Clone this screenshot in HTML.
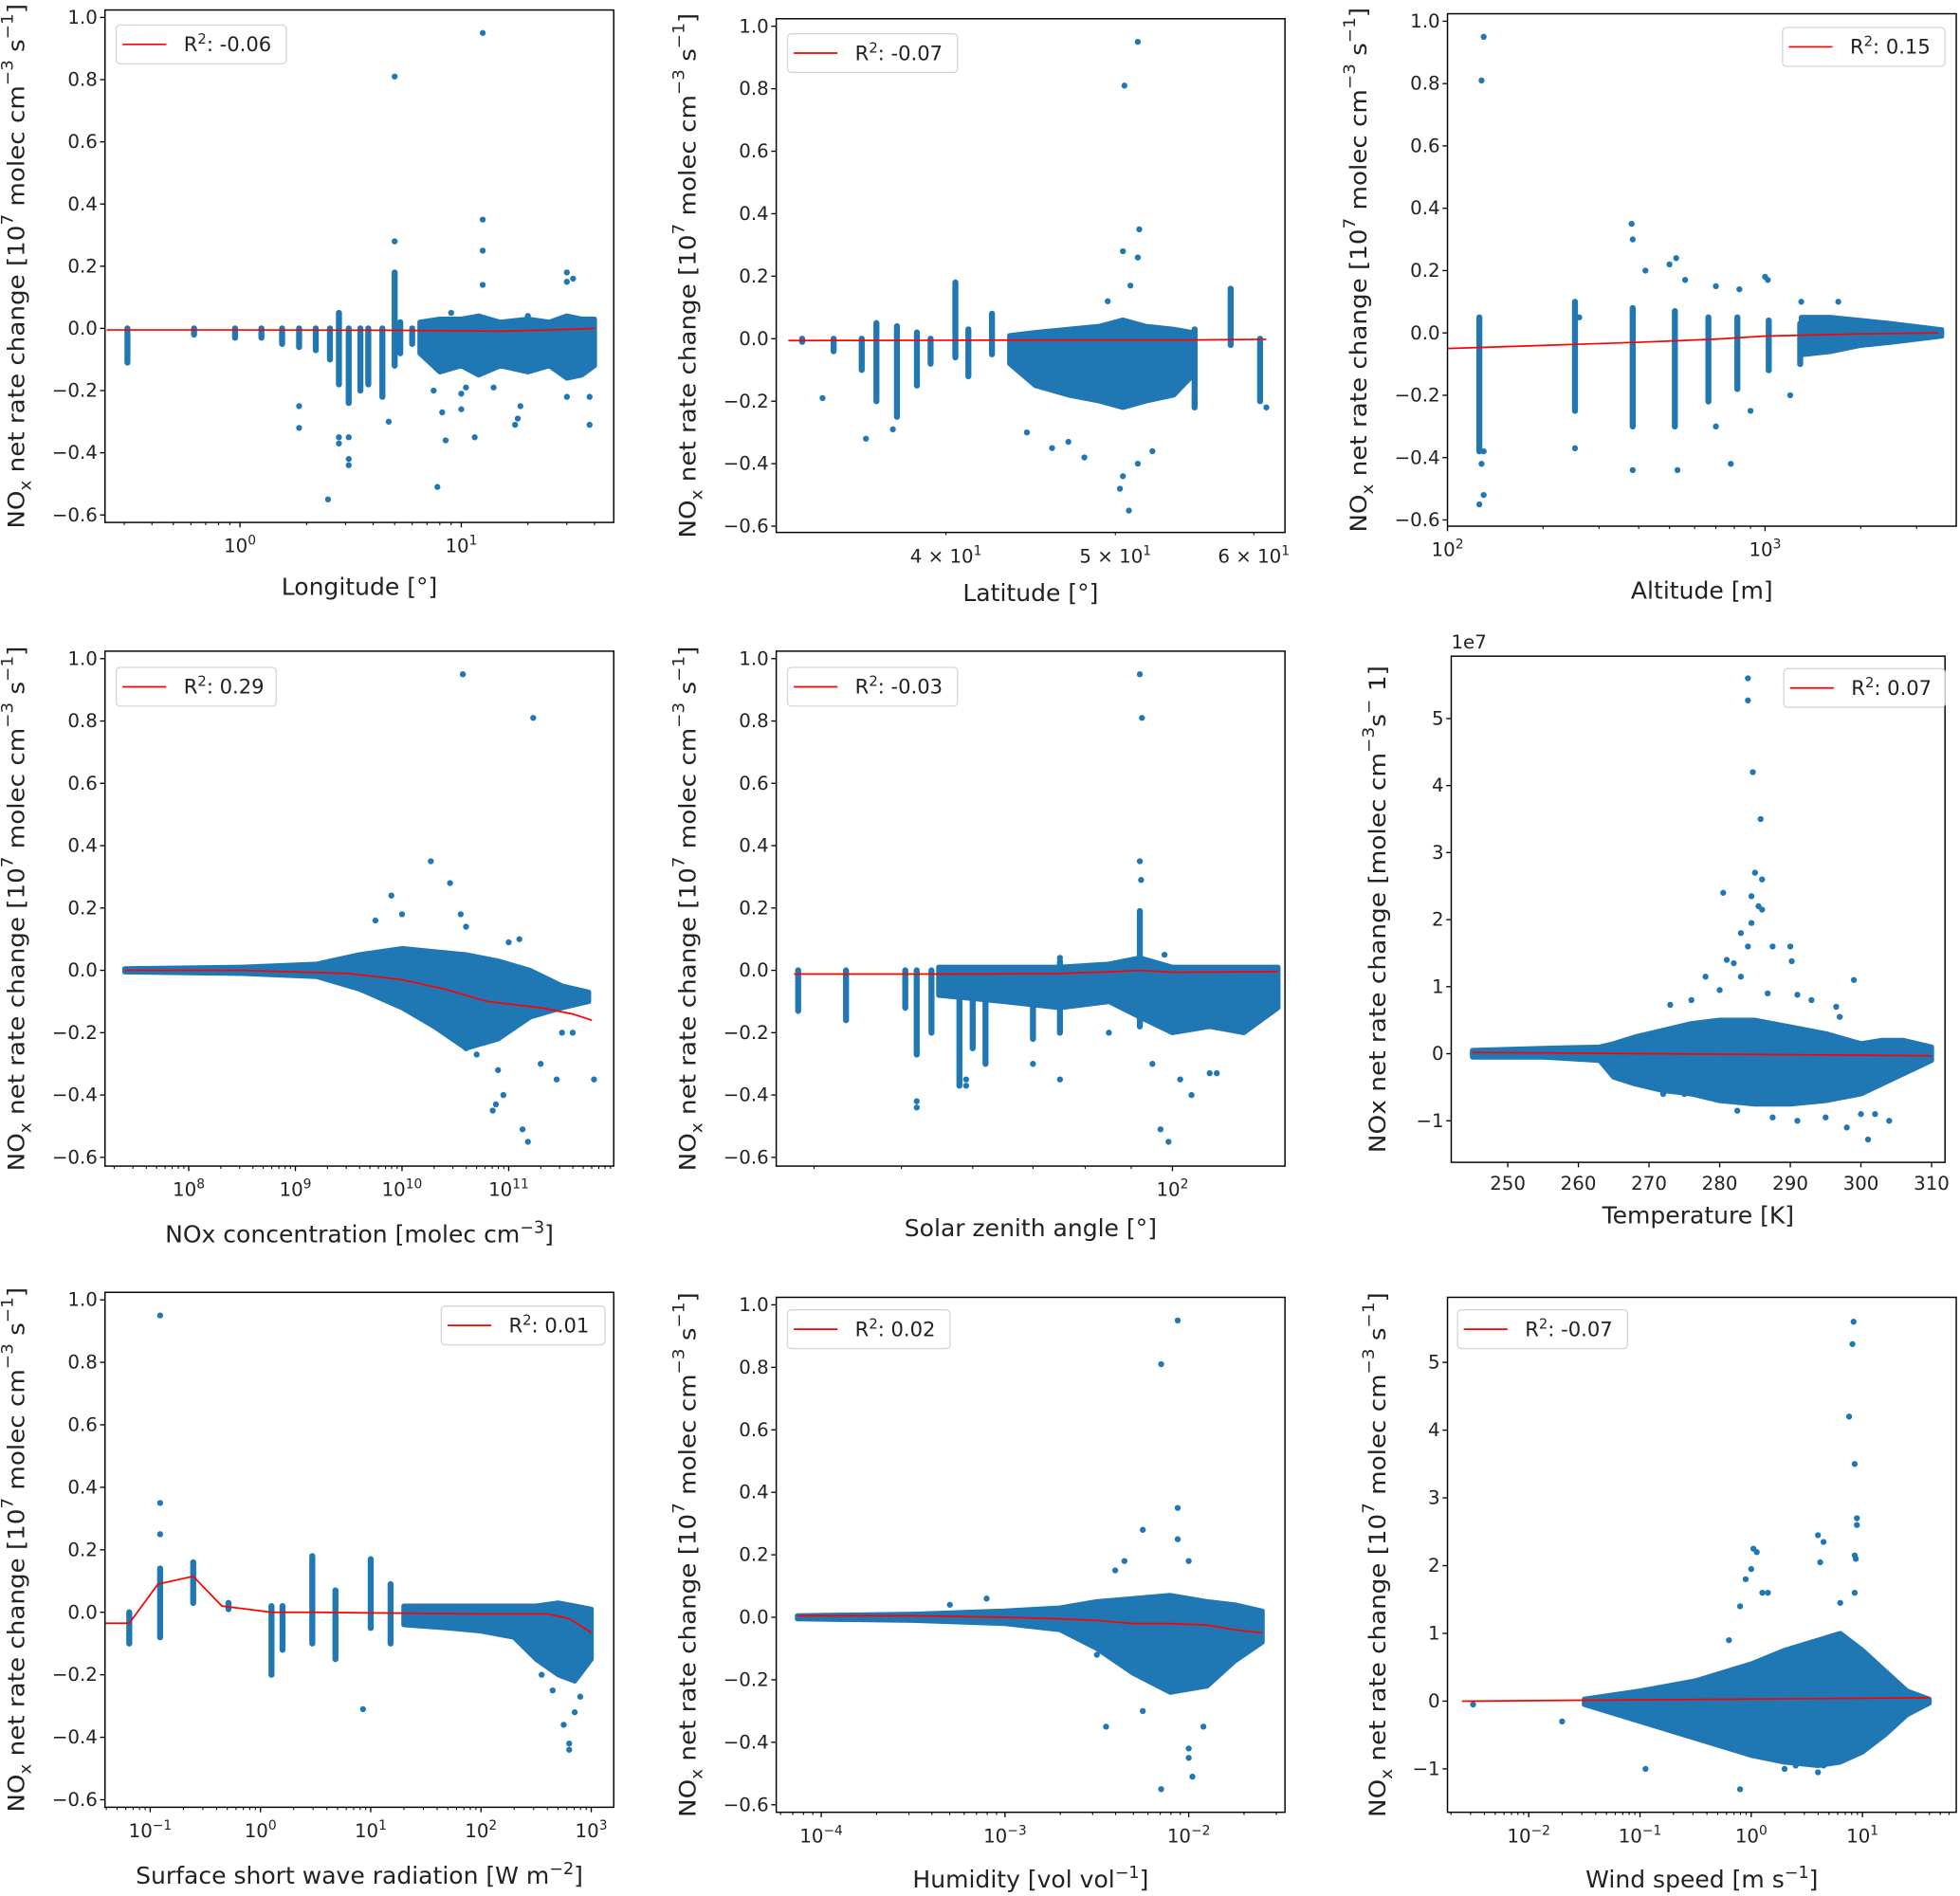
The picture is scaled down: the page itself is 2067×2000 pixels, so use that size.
<!DOCTYPE html>
<html><head><meta charset="utf-8"><style>
html,body{margin:0;padding:0;background:#fff;}
svg{display:block;font-family:"DejaVu Sans","Liberation Sans",sans-serif;}
</style></head><body>
<svg id="fig" width="2067" height="2000" viewBox="0 0 1568 1517" preserveAspectRatio="none" xmlns="http://www.w3.org/2000/svg"></svg>
<script>
// ---------- DATA (x in real units, or log10 exponent where noted) ----------
// Panel 1 Longitude (real)
const p1Cols=[[0.31,0,-0.11],[0.62,0,-0.02],[0.95,0,-0.03],[1.25,0,-0.03],[1.55,0,-0.05],[1.85,0,-0.06],[2.2,0,-0.07],[2.55,0,-0.1],[2.8,0.05,-0.18],[3.1,0,-0.24],[3.5,0,-0.2],[3.8,0,-0.18],[4.4,0,-0.22],[5.0,0.18,-0.12],[5.3,0.02,-0.08],[6.0,0,-0.05]];
const p1EnvX=[6.5,8,10,12,15,20,25,30,35,40];
const p1EnvTop=[0.02,0.03,0.03,0.04,0.02,0.03,0.02,0.04,0.03,0.03];
const p1EnvBot=[-0.08,-0.14,-0.12,-0.15,-0.12,-0.14,-0.12,-0.16,-0.15,-0.12];
const p1PtX=[2.5,5.0,12.5,12.5,12.5,12.5,5.0,1.85,1.85,2.8,2.8,3.1,3.1,3.1,4.7,7.8,8.5,11.5,17.5,18,10,10,8.2,30,30,32,30,38,38,20,9,10.5,7.5,14,18.5];
const p1PtY=[-0.55,0.81,0.95,0.35,0.25,0.14,0.28,-0.25,-0.32,-0.35,-0.37,-0.42,-0.44,-0.35,-0.3,-0.51,-0.36,-0.35,-0.31,-0.29,-0.26,-0.21,-0.27,0.18,0.15,0.16,-0.22,-0.31,-0.22,0.04,0.05,-0.19,-0.2,-0.19,-0.25];
const p1FitX=[0.25,1,5,15,25,40];
const p1FitY=[-0.005,-0.005,-0.006,-0.009,-0.005,0];
// Panel 2 Latitude (real)
const p2Cols=[[33.1,0,-0.01],[34.5,0,-0.04],[35.8,0,-0.1],[36.5,0.05,-0.2],[37.5,0.04,-0.25],[38.5,0.02,-0.15],[39.2,0,-0.08],[40.5,0.18,-0.06],[41.2,0.03,-0.12],[42.5,0.08,-0.05],[55.5,0.03,-0.22],[58.2,0.16,-0.02],[60.5,0,-0.2]];
const p2EnvX=[43.5,45,47,49,50.5,52,54,55.3];
const p2EnvTop=[0.01,0.02,0.03,0.04,0.06,0.04,0.03,0.02];
const p2EnvBot=[-0.08,-0.15,-0.18,-0.2,-0.22,-0.2,-0.18,-0.12];
const p2PtX=[51.5,50.6,51.6,50.5,51.5,36,34,37.3,46,48,50.5,50.9,50.3,51.5,44.5,47,61,52.5,55.5,51,49.5];
const p2PtY=[0.95,0.81,0.35,0.28,0.26,-0.32,-0.19,-0.29,-0.35,-0.38,-0.44,-0.55,-0.48,-0.4,-0.3,-0.33,-0.22,-0.36,-0.2,0.17,0.12];
const p2FitX=[32.5,40,50,55,61];
const p2FitY=[-0.006,-0.005,-0.004,-0.004,-0.002];
// Panel 3 Altitude (real)
const p3Cols=[[126,0.05,-0.38],[252,0.1,-0.25],[383,0.08,-0.3],[520,0.07,-0.3],[663,0.05,-0.22],[818,0.05,-0.18],[1027,0.04,-0.12],[1290,0.03,-0.1]];
const p3EnvX=[1300,1600,2000,2500,3000,3600];
const p3EnvTop=[0.05,0.05,0.04,0.03,0.02,0.01];
const p3EnvBot=[-0.07,-0.06,-0.04,-0.03,-0.02,-0.01];
const p3PtX=[130,128,126,130,128,130,380,383,252,383,530,525,560,780,700,1000,1020,830,1300,1700,500,420,260,700,900,1200];
const p3PtY=[0.95,0.81,-0.55,-0.52,-0.42,-0.38,0.35,0.3,-0.37,-0.44,-0.44,0.24,0.17,-0.42,0.15,0.18,0.17,0.14,0.1,0.1,0.22,0.2,0.05,-0.3,-0.25,-0.2];
const p3FitX=[100,200,400,700,1000,2000,3500];
const p3FitY=[-0.05,-0.04,-0.03,-0.02,-0.01,-0.003,0];
// Panel 4 NOx concentration (log10 exponent)
const p4Cols=[];
const p4EnvX=[7.4,8.5,9.2,9.6,10.0,10.3,10.6,10.9,11.2,11.5,11.75];
const p4EnvTop=[0.005,0.01,0.02,0.05,0.07,0.06,0.05,0.03,0.0,-0.05,-0.07];
const p4EnvBot=[-0.005,-0.01,-0.02,-0.06,-0.12,-0.18,-0.25,-0.22,-0.15,-0.12,-0.1];
const p4PtX=[10.57,11.23,10.27,10.45,9.9,10.0,10.55,10.6,9.75,11.1,11.0,10.9,10.95,10.88,10.85,11.13,11.18,11.45,11.8,11.5,11.6,11.7,11.3,10.7,10.6];
const p4PtY=[0.95,0.81,0.35,0.28,0.24,0.18,0.18,0.14,0.16,0.1,0.09,-0.32,-0.4,-0.43,-0.45,-0.51,-0.55,-0.35,-0.35,-0.2,-0.2,-0.08,-0.3,-0.27,-0.25];
const p4FitX=[7.4,8.5,9.5,10.0,10.4,10.8,11.3,11.6,11.78];
const p4FitY=[0,0,-0.01,-0.03,-0.06,-0.1,-0.12,-0.14,-0.16];
// Panel 5 Solar zenith angle (real)
const p5Cols=[[38.4,0,-0.13],[43.4,0,-0.16],[50.5,0,-0.12],[52,0,-0.27],[54,0,-0.2],[58,0,-0.37],[60,0,-0.25],[62,0,-0.3],[70,0,-0.22],[75,0.03,-0.2],[92,0.19,-0.18]];
const p5EnvX=[55,65,75,85,92,100,110,120,131];
const p5EnvTop=[0.01,0.01,0.01,0.02,0.04,0.01,0.01,0.01,0.01];
const p5EnvBot=[-0.08,-0.1,-0.12,-0.1,-0.15,-0.2,-0.18,-0.2,-0.12];
const p5PtX=[92,92.5,92,92.3,52,52,59,59,70,75,97,99,102,110,112,95,75,98,85,105];
const p5PtY=[0.95,0.81,0.35,0.29,-0.42,-0.44,-0.35,-0.37,-0.3,-0.35,-0.51,-0.55,-0.35,-0.33,-0.33,-0.3,0.04,0.05,-0.2,-0.4];
const p5FitX=[38,60,75,85,92,100,131];
const p5FitY=[-0.012,-0.012,-0.01,-0.005,0,-0.006,-0.004];
// Panel 6 Temperature (real, y in 1e7)
const p6Cols=[];
const p6EnvX=[245,255,263,265,268,272,276,280,285,290,295,300,303,306,310];
const p6EnvTop=[0.05,0.08,0.1,0.15,0.25,0.35,0.45,0.5,0.5,0.4,0.3,0.15,0.2,0.2,0.1];
const p6EnvBot=[-0.05,-0.05,-0.1,-0.35,-0.45,-0.55,-0.6,-0.7,-0.75,-0.75,-0.7,-0.6,-0.45,-0.3,-0.1];
const p6PtX=[284,284,284.7,285.8,285,286,280.5,284.5,285.5,286,284.5,283,284,287.5,290,290.2,281,282,278,283,299,280,286.8,291,293,296.5,297,273,276,282.5,287.5,291,298,301,304,295,275,272,300,302];
const p6PtY=[5.6,5.27,4.2,3.5,2.7,2.6,2.4,2.35,2.2,2.15,1.95,1.8,1.6,1.6,1.6,1.38,1.4,1.35,1.15,1.15,1.1,0.95,0.9,0.88,0.8,0.7,0.55,0.73,0.8,-0.85,-0.95,-1.0,-1.1,-1.28,-1.0,-0.95,-0.6,-0.6,-0.9,-0.9];
const p6FitX=[245,310];
const p6FitY=[0.02,-0.03];
// Panel 7 Surface short wave radiation (log10 exponent)
const p7Cols=[[-1.19,0,-0.1],[-0.91,0.14,-0.08],[-0.61,0.16,0.03],[-0.29,0.03,0.01],[0.1,0.02,-0.2],[0.2,0.02,-0.12],[0.47,0.18,-0.1],[0.68,0.07,-0.15],[1.0,0.17,-0.05],[1.18,0.09,-0.1]];
const p7EnvX=[1.3,1.7,2.0,2.3,2.5,2.7,2.85,3.0];
const p7EnvTop=[0.02,0.02,0.02,0.02,0.02,0.03,0.02,0.01];
const p7EnvBot=[-0.04,-0.05,-0.06,-0.08,-0.15,-0.2,-0.22,-0.15];
const p7PtX=[-0.91,-0.91,-0.91,0.93,2.75,2.8,2.8,2.85,2.55,2.65,2.9];
const p7PtY=[0.95,0.35,0.25,-0.31,-0.36,-0.42,-0.44,-0.32,-0.2,-0.25,-0.27];
const p7FitX=[-1.41,-1.19,-0.93,-0.61,-0.35,0.1,0.5,1.0,2.0,2.6,2.8,3.0];
const p7FitY=[-0.035,-0.035,0.09,0.115,0.02,0.0,0.0,-0.002,-0.005,-0.005,-0.02,-0.065];
// Panel 8 Humidity (log10 exponent)
const p8Cols=[];
const p8EnvX=[-4.13,-3.5,-3.0,-2.7,-2.5,-2.3,-2.1,-1.9,-1.75,-1.6];
const p8EnvTop=[0.005,0.01,0.02,0.03,0.05,0.06,0.07,0.05,0.04,0.02];
const p8EnvBot=[-0.005,-0.01,-0.02,-0.04,-0.1,-0.18,-0.24,-0.22,-0.14,-0.08];
const p8PtX=[-2.06,-2.15,-2.06,-2.06,-2.25,-2.35,-2.0,-2.4,-2.15,-1.98,-2.0,-2.0,-2.45,-1.92,-2.25,-3.1,-3.3,-2.5];
const p8PtY=[0.95,0.81,0.35,0.25,0.28,0.18,0.18,0.15,-0.55,-0.51,-0.45,-0.42,-0.35,-0.35,-0.3,0.06,0.04,-0.12];
const p8FitX=[-4.13,-3.5,-3.0,-2.7,-2.5,-2.3,-2.1,-1.9,-1.75,-1.6];
const p8FitY=[0.005,0.005,0.0,-0.005,-0.01,-0.02,-0.02,-0.025,-0.04,-0.05];
// Panel 9 Wind speed (log10 exponent)
const p9Cols=[];
const p9EnvX=[-1.5,-1,-0.5,0,0.3,0.6,0.8,1.0,1.2,1.4,1.6];
const p9EnvTop=[0.03,0.15,0.3,0.55,0.75,0.9,1.0,0.75,0.45,0.15,0.03];
const p9EnvBot=[-0.05,-0.3,-0.55,-0.8,-0.9,-0.95,-0.9,-0.75,-0.5,-0.2,-0.03];
const p9PtX=[0.92,0.91,0.88,0.93,0.95,0.95,0.93,0.94,0.6,0.65,0.02,0.05,0.0,-0.05,0.1,0.15,0.62,0.93,0.8,-0.1,-0.2,-0.95,-0.1,0.6,0.65,-2.5,-1.7,-1.45,0.3,0.4];
const p9PtY=[5.6,5.27,4.2,3.5,2.7,2.6,2.15,2.1,2.45,2.35,2.25,2.2,1.95,1.8,1.6,1.6,2.05,1.6,1.45,1.4,0.9,-1.0,-1.3,-1.05,-0.95,-0.05,-0.3,-0.05,-1.0,-0.95];
const p9FitX=[-2.6,1.6];
const p9FitY=[0,0.05];
// Legend values
const r2Labels=["-0.06","-0.07","0.15","0.29","-0.03","0.07","0.01","0.02","-0.07"];
const unitTicks=[-0.6,-0.4,-0.2,0.0,0.2,0.4,0.6,0.8,1.0];
const e7Ticks=[-1,0,1,2,3,4,5];

// ---------- LAYOUT ----------
const NS="http://www.w3.org/2000/svg";
const svg=document.getElementById('fig');
const BLUE="#1f77b4";
function el(tag,attrs,parent){const e=document.createElementNS(NS,tag);for(const k in attrs)e.setAttribute(k,attrs[k]);(parent||svg).appendChild(e);return e;}
function rich(t,parts){parts.forEach(p=>{const s=document.createElementNS(NS,'tspan');if(p[1]==='sup'){s.setAttribute('baseline-shift','super');s.setAttribute('font-size','70%');}if(p[1]==='sub'){s.setAttribute('baseline-shift','sub');s.setAttribute('font-size','70%');}s.textContent=p[0];t.appendChild(s);});}
const ylabStd=[['NO',''],['x','sub'],[' net rate change [10',''],['7','sup'],[' molec cm',''],['−3','sup'],[' s',''],['−1','sup'],[']','']];
const ylabT=[['NOx net rate change [molec cm',''],['−3','sup'],['s',''],['−','sup'],[' 1]','']];
const panels=[
 {name:'longitude',box:[84,8,491,418],log:true,exp:false,xd:[-0.61,1.689],yd:[-0.624,1.024],cols:p1Cols,ex:p1EnvX,et:p1EnvTop,eb:p1EnvBot,px:p1PtX,py:p1PtY,fx:p1FitX,fy:p1FitY,yt:unitTicks,ylx:14,xl:[[ 'Longitude [°]','']],xly:476,leg:[93,20,136,'L'],ylab:ylabStd,yll:420},
 {name:'latitude',box:[621,15,1028,426],log:true,exp:false,xd:[1.505,1.796],yd:[-0.62,1.024],cols:p2Cols,ex:p2EnvX,et:p2EnvTop,eb:p2EnvBot,px:p2PtX,py:p2PtY,fx:p2FitX,fy:p2FitY,yt:unitTicks,ylx:551,xl:[['Latitude [°]','']],xly:481,leg:[630,27,136,'L'],ylab:ylabStd,yll:420,latTicks:true},
 {name:'altitude',box:[1158,11,1565,421],log:true,exp:false,xd:[2.0,3.602],yd:[-0.62,1.024],cols:p3Cols,ex:p3EnvX,et:p3EnvTop,eb:p3EnvBot,px:p3PtX,py:p3PtY,fx:p3FitX,fy:p3FitY,yt:unitTicks,ylx:1088,xl:[['Altitude [m]','']],xly:479,leg:[1426,22,130,'R'],ylab:ylabStd,yll:420},
 {name:'nox-concentration',box:[84,521,491,933],log:true,exp:true,xd:[7.215,11.985],yd:[-0.628,1.024],cols:p4Cols,ex:p4EnvX,et:p4EnvTop,eb:p4EnvBot,px:p4PtX,py:p4PtY,fx:p4FitX,fy:p4FitY,yt:unitTicks,ylx:14,xl:[['NOx concentration [molec cm',''],['−3','sup'],[']','']],xly:994,leg:[93,534,128,'L'],ylab:ylabStd,yll:420},
 {name:'solar-zenith-angle',box:[621,521,1028,933],log:true,exp:false,xd:[1.56,2.125],yd:[-0.628,1.024],cols:p5Cols,ex:p5EnvX,et:p5EnvTop,eb:p5EnvBot,px:p5PtX,py:p5PtY,fx:p5FitX,fy:p5FitY,yt:unitTicks,ylx:551,xl:[['Solar zenith angle [°]','']],xly:989,leg:[630,534,136,'L'],ylab:ylabStd,yll:420},
 {name:'temperature',box:[1161,525,1556,930],log:false,exp:false,xd:[242.0,311.9],yd:[-1.62,5.93],cols:p6Cols,ex:p6EnvX,et:p6EnvTop,eb:p6EnvBot,px:p6PtX,py:p6PtY,fx:p6FitX,fy:p6FitY,yt:e7Ticks,ylx:1103,xl:[['Temperature [K]','']],xly:979,leg:[1427,535,129,'R'],ylab:ylabT,yll:390,offset:true},
 {name:'shortwave-radiation',box:[84,1034,491,1446],log:true,exp:true,xd:[-1.41,3.204],yd:[-0.624,1.024],cols:p7Cols,ex:p7EnvX,et:p7EnvTop,eb:p7EnvBot,px:p7PtX,py:p7PtY,fx:p7FitX,fy:p7FitY,yt:unitTicks,ylx:14,xl:[['Surface short wave radiation [W m',''],['−2','sup'],[']','']],xly:1507,leg:[353,1045,131,'L'],ylab:ylabStd,yll:420},
 {name:'humidity',box:[621,1038,1028,1450],log:true,exp:true,xd:[-4.245,-1.476],yd:[-0.624,1.024],cols:p8Cols,ex:p8EnvX,et:p8EnvTop,eb:p8EnvBot,px:p8PtX,py:p8PtY,fx:p8FitX,fy:p8FitY,yt:unitTicks,ylx:551,xl:[['Humidity [vol vol',''],['−1','sup'],[']','']],xly:1510,leg:[630,1048,130,'L'],ylab:ylabStd,yll:420},
 {name:'wind-speed',box:[1158,1038,1565,1450],log:true,exp:true,xd:[-2.73,1.843],yd:[-1.64,5.96],cols:p9Cols,ex:p9EnvX,et:p9EnvTop,eb:p9EnvBot,px:p9PtX,py:p9PtY,fx:p9FitX,fy:p9FitY,yt:e7Ticks,ylx:1103,xl:[['Wind speed [m s',''],['−1','sup'],[']','']],xly:1510,leg:[1166,1048,136,'L'],ylab:ylabStd,yll:420}
];

panels.forEach((P,i)=>{
 const [L,T,R,B]=P.box;
 const g=el('g',{});
 
 
 const tx=v=>P.log?(P.exp?v:Math.log10(v)):v;
 const sx=v=>L+(tx(v)-P.xd[0])/(P.xd[1]-P.xd[0])*(R-L);
 const sxl=e=>L+(e-P.xd[0])/(P.xd[1]-P.xd[0])*(R-L);
 const sy=v=>B-(v-P.yd[0])/(P.yd[1]-P.yd[0])*(B-T);
 const cid='clip'+i;
 const cp=el('clipPath',{id:cid},g);el('rect',{x:L,y:T,width:R-L,height:B-T},cp);
 const data=el('g',{'clip-path':'url(#'+cid+')'},g);
 
 
 if(P.ex.length){
  let pts=P.ex.map((x,k)=>sx(x)+','+sy(P.et[k]));
  for(let k=P.ex.length-1;k>=0;k--)pts.push(sx(P.ex[k])+','+sy(P.eb[k]));
  const poly=el('polygon',{points:pts.join(' '),fill:BLUE,stroke:BLUE,'stroke-width':4,'stroke-linejoin':'round'},data);
  
  
 }
 P.cols.forEach(c=>{
  const y1=sy(c[1]),y2=sy(c[2]);
  const r=el('rect',{x:sx(c[0])-2.4,y:y1-2.4,width:4.8,height:(y2-y1)+4.8,rx:2.4,fill:BLUE},data);
  
  
 });
 P.px.forEach((x,k)=>{
  const c=el('circle',{cx:sx(x),cy:sy(P.py[k]),r:2.4,fill:BLUE},data);
  
  
 });
 const fit=el('polyline',{points:P.fx.map((x,k)=>sx(x)+','+sy(P.fy[k])).join(' '),fill:'none',stroke:'#ff0000','stroke-width':1.3},data);
 
 
 const fr=el('rect',{x:L,y:T,width:R-L,height:B-T,fill:'none',stroke:'#000','stroke-width':1.1},g);
 
 
 P.yt.forEach(v=>{
  const y=sy(v);
  el('line',{x1:L-4,x2:L,y1:y,y2:y,stroke:'#000','stroke-width':1},g);
  const t=el('text',{x:L-6,y:y+5,'text-anchor':'end','font-size':15,fill:'#222'},g);
  
  
  t.textContent=(P.offset||P.name==='wind-speed')?String(v).replace('-','−'):v.toFixed(1).replace('-','−');
 });
 if(!P.log){
  for(let v=250;v<=310;v+=10){const x=sx(v);el('line',{x1:x,x2:x,y1:B,y2:B+4,stroke:'#000'},g);
   const t=el('text',{x:x,y:B+22,'text-anchor':'middle','font-size':15,fill:'#222'},g);
   
   
   t.textContent=v;}
 } else {
  const e0=Math.floor(P.xd[0]),e1=Math.ceil(P.xd[1]);
  for(let e=e0;e<=e1;e++){
   for(let m=1;m<10;m++){
    const le=e+Math.log10(m);
    if(le<P.xd[0]-1e-6||le>P.xd[1]+1e-6)continue;
    const x=sxl(le);
    const major=(m===1);
    el('line',{x1:x,x2:x,y1:B,y2:B+(major?4:2.2),stroke:'#000','stroke-width':major?1:0.8},g);
    if(major){
     const t=el('text',{x:x,y:B+24,'text-anchor':'middle','font-size':15,fill:'#222'},g);
     
     
     rich(t,[['10',''],[String(e).replace('-','−'),'sup']]);
    } else if(P.latTicks){
     const t=el('text',{x:x,y:B+24,'text-anchor':'middle','font-size':15,fill:'#222'},g);
     
     
     rich(t,[[m+' × 10',''],[String(e),'sup']]);
    }
   }
  }
 }
 const xl=el('text',{x:(L+R)/2,y:P.xly,'text-anchor':'middle','font-size':19,fill:'#222'},g);
 
 
 rich(xl,P.xl);
 const yl=el('text',{transform:'translate('+P.ylx+','+((T+B)/2)+') rotate(-90)','text-anchor':'middle','dominant-baseline':'middle','font-size':18,fill:'#222',textLength:P.yll,lengthAdjust:'spacingAndGlyphs'},g);
 
 
 rich(yl,P.ylab);
 if(P.offset){
  const o=el('text',{x:L,y:T-6,'font-size':15,fill:'#222'},g);
  
  
  o.textContent='1e7';
 }
 const [lx,ly,lw]=P.leg;
 const lg=el('g',{},g);
 
 
 el('rect',{x:lx,y:ly,width:lw,height:31,rx:3,fill:'#fff',stroke:'#d5d5d5','stroke-width':1},lg);
 el('line',{x1:lx+5,x2:lx+40,y1:ly+15.5,y2:ly+15.5,stroke:'#ff0000','stroke-width':1.3},lg);
 const lt=el('text',{x:lx+54,y:ly+21,'font-size':16,fill:'#222'},lg);
 
 
 rich(lt,[['R',''],['2','sup'],[': '+r2Labels[i],'']]);
});
</script>
</body></html>
